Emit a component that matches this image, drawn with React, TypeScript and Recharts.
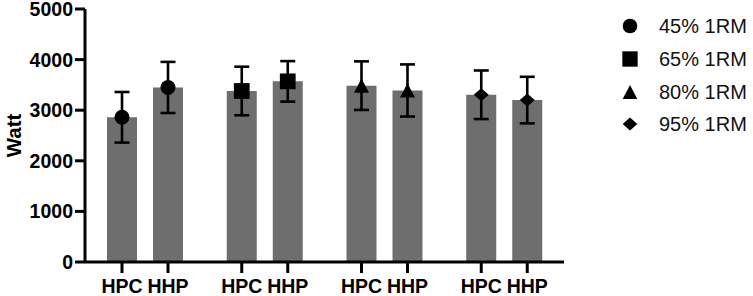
import React from 'react';
import { ComposedChart, Bar, XAxis, YAxis, ErrorBar, LabelList, Legend } from 'recharts';

const groups = ['45% 1RM', '65% 1RM', '80% 1RM', '95% 1RM'];
const markerShapes = ['circle', 'square', 'triangle', 'diamond'];
const hpcMean = [2860, 3380, 3485, 3305];
const hpcSd = [500, 480, 480, 480];
const hhpMean = [3450, 3570, 3390, 3200];
const hhpSd = [505, 400, 515, 460];
const yTicks = [0, 1000, 2000, 3000, 4000, 5000];

const data = groups.map((g, i) => ({
  group: g,
  marker: markerShapes[i],
  HPC: hpcMean[i],
  HPCsd: hpcSd[i],
  HHP: hhpMean[i],
  HHPsd: hhpSd[i],
}));

const FONT = '"Liberation Sans", Arial, Helvetica, sans-serif';
const BAR_FILL = '#6e6e6e';

const Marker = ({ shape, cx, cy, r }: { shape: string; cx: number; cy: number; r: number }) => {
  if (shape === 'square') {
    const s = r * 1.05;
    return <rect x={cx - s} y={cy - s} width={2 * s} height={2 * s} fill="#000" />;
  }
  if (shape === 'triangle') {
    const pts = `${cx},${cy - r * 0.95} ${cx + r},${cy + r * 0.95} ${cx - r},${cy + r * 0.95}`;
    return <polygon points={pts} fill="#000" />;
  }
  if (shape === 'diamond') {
    const pts = `${cx},${cy - r * 0.88} ${cx + r},${cy} ${cx},${cy + r * 0.88} ${cx - r},${cy}`;
    return <polygon points={pts} fill="#000" />;
  }
  return <circle cx={cx} cy={cy} r={r} fill="#000" />;
};

// marker drawn on top of each bar
const BarMarker = (props: any) => {
  const { x, y, width, value } = props;
  return <Marker shape={value} cx={x + width / 2} cy={y} r={7.5} />;
};

// tick mark + label under each bar
const makeBarTick = (name: string) => (props: any) => {
  const { x, y, width, height } = props;
  const cx = x + width / 2;
  const base = y + height;
  return (
    <g>
      <line x1={cx} x2={cx} y1={base} y2={base + 11} stroke="#000" strokeWidth={3} />
      <text
        x={cx}
        y={base + 31}
        textAnchor="middle"
        fontFamily={FONT}
        fontWeight="bold"
        fontSize={19.5}
        fill="#000"
      >
        {name}
      </text>
    </g>
  );
};

const YLabel = (props: any) => {
  const { x, y, height } = props.viewBox;
  const cx = x + 13.5;
  const cy = y + height / 2;
  return (
    <text
      x={cx}
      y={cy}
      transform={`rotate(-90 ${cx} ${cy})`}
      textAnchor="middle"
      dominantBaseline="central"
      fontFamily={FONT}
      fontWeight="bold"
      fontSize={20.5}
      fill="#000"
    >
      Watt
    </text>
  );
};

const LegendContent = () => (
  <div style={{ fontFamily: FONT, fontSize: 20, color: '#111' }}>
    {groups.map((g, i) => (
      <div key={g} style={{ display: 'flex', alignItems: 'center', height: 32.7 }}>
        <svg width={36} height={20}>
          <Marker shape={markerShapes[i]} cx={18} cy={10} r={7.3} />
        </svg>
        <span style={{ marginLeft: 11, lineHeight: '20px' }}>{g}</span>
      </div>
    ))}
  </div>
);

export default function App() {
  return (
    <div style={{ position: 'absolute', left: 0, top: 0, background: '#fff' }}>
      <ComposedChart
        width={753}
        height={296}
        data={data}
        margin={{ top: 9, right: 189, bottom: 0, left: 0 }}
        barSize={30}
        barGap={16}
      >
        <XAxis
          dataKey="group"
          tick={false}
          tickLine={false}
          height={34}
          axisLine={{ stroke: '#000', strokeWidth: 3 }}
        />
        <YAxis
          type="number"
          domain={[0, 5000]}
          ticks={yTicks}
          interval={0}
          width={85}
          tickSize={10}
          axisLine={{ stroke: '#000', strokeWidth: 3 }}
          tickLine={{ stroke: '#000', strokeWidth: 3 }}
          tick={{ fill: '#000', fontFamily: FONT, fontWeight: 'bold', fontSize: 19.5 }}
          label={{ content: YLabel }}
        />
        <Legend
          layout="vertical"
          align="center"
          verticalAlign="middle"
          wrapperStyle={{ left: 612, top: 10, width: 141 }}
          content={LegendContent}
        />
        <Bar dataKey="HPC" fill={BAR_FILL} isAnimationActive={false}>
          <ErrorBar dataKey="HPCsd" width={7.5} strokeWidth={2.6} stroke="#000" direction="y" isAnimationActive={false} />
          <LabelList dataKey="marker" content={BarMarker} />
          <LabelList dataKey="marker" content={makeBarTick('HPC')} />
        </Bar>
        <Bar dataKey="HHP" fill={BAR_FILL} isAnimationActive={false}>
          <ErrorBar dataKey="HHPsd" width={7.5} strokeWidth={2.6} stroke="#000" direction="y" isAnimationActive={false} />
          <LabelList dataKey="marker" content={BarMarker} />
          <LabelList dataKey="marker" content={makeBarTick('HHP')} />
        </Bar>
      </ComposedChart>
    </div>
  );
}
